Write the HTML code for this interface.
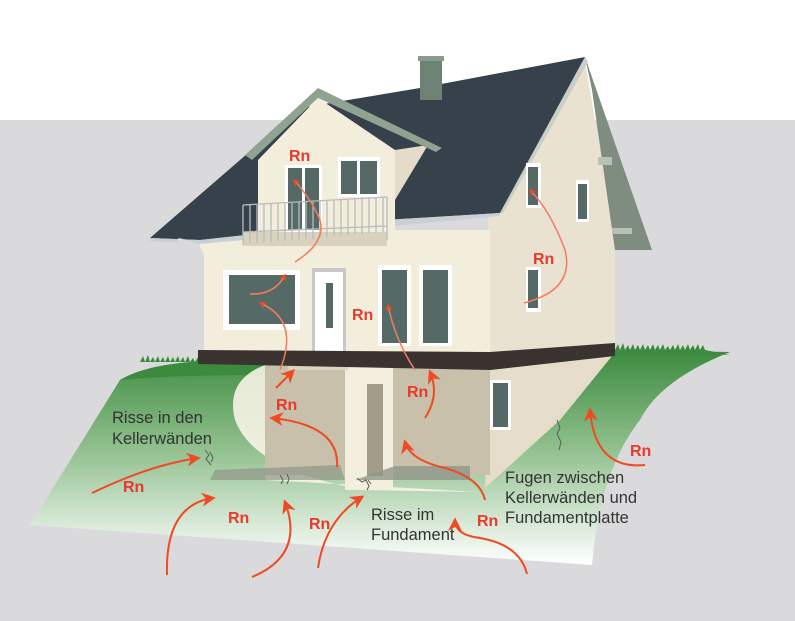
<!DOCTYPE html>
<html><head><meta charset="utf-8"><style>body{margin:0;background:#fff}svg{display:block}</style></head><body>
<svg width="795" height="621" viewBox="0 0 795 621" xmlns="http://www.w3.org/2000/svg" font-family="Liberation Sans, sans-serif">
<defs>
<linearGradient id="g" x1="0" y1="0" x2="0" y2="1"><stop offset="0" stop-color="#3b8a3e"/><stop offset="0.45" stop-color="#8fbf8c"/><stop offset="1" stop-color="#ffffff"/></linearGradient>
<marker id="a" viewBox="0 0 10 10" refX="8" refY="5" markerWidth="5" markerHeight="5" orient="auto"><path d="M0,0L10,5L0,10L3,5z" fill="#f04a23"/></marker>
<marker id="b" viewBox="0 0 10 10" refX="8" refY="5" markerWidth="7" markerHeight="7" orient="auto"><path d="M0,0L10,5L0,10L3,5z" fill="#f04a23"/></marker>
</defs>
<rect x="0" y="120" width="795" height="501" fill="#dadadc"/>
<path d="M30,525 L120,380 Q180,355 265,362 L615,350 L730,352 Q660,380 640,420 Q600,470 592,565 L30,525 Z" fill="url(#g)"/>
<path d="M120,380 Q160,356 265,362 L270,375 Q170,375 120,380Z" fill="#3b8a3e"/>
<path d="M265,365 Q225,380 235,420 Q250,460 320,480 L360,490 L480,492 L265,480Z" fill="#f7f3e6" opacity="0.9"/>
<path d="M490,370 L612,356 L560,420 L485,488 Z" fill="#e5ddc9"/>
<rect x="265" y="365" width="225" height="110" fill="#c8c0aa"/>
<rect x="345" y="365" width="48" height="125" fill="#f3eedd"/>
<rect x="367" y="384" width="16" height="92" fill="#a39c8b"/>
<path d="M215,470 L340,465 L345,480 L210,480Z" fill="#8e9688" opacity="0.7"/>
<path d="M355,480 L395,466 L470,466 L470,480Z" fill="#8e9688" opacity="0.8"/>
<rect x="490" y="380" width="21" height="50" fill="#fff"/><rect x="493" y="383" width="15" height="44" fill="#556a66"/>
<path d="M140,362 l3,-6 l2,6 l3,-7 l2,7 l3,-5 l2,5 l3,-6 l2,6 l3,-5 l2,5 l3,-6 l2,6 l3,-5 l2,5 l3,-6 l2,6 l3,-5 l2,5 l3,-6 l2,6 l3,-4 l2,4 l3,-5 l2,5Z" fill="#3b8a3e"/>
<path d="M615,350 l3,-6 l2,6 l3,-7 l2,7 l3,-5 l2,5 l3,-6 l2,6 l3,-5 l2,5 l3,-6 l2,6 l3,-5 l2,5 l3,-6 l2,6 l3,-5 l2,5 l3,-6 l2,6 l3,-4 l2,4 l3,-5 l2,5 l3,-6 l2,6 l3,-5 l2,5 l3,-6 l2,6 l3,-5 l2,5l3,-6 l2,6 l3,-5 l2,5 L730,355Z" fill="#3b8a3e"/>
<path d="M488,216 L585,62 L615,235 L615,345 L490,352Z" fill="#e9e2d0"/>
<rect x="200" y="230" width="290" height="122" fill="#f3eddc"/>
<path d="M585,57 L652,250 L615,250 L592,90Z" fill="#7e8d80"/>
<path d="M150,238 L300,108 L420,88 L585,57 L500,213 L385,220 L200,240Z" fill="#36414b"/>
<path d="M585,57 L500,213 L503,213 L588,62Z" fill="#c9cfc6"/>
<rect x="420" y="58" width="22" height="42" fill="#6e8274"/><rect x="418" y="56" width="26" height="5" fill="#8a9a8e"/>
<path d="M150,238 L200,240 L385,220 L500,213 L500,216 L200,244 L150,241Z" fill="#c9cfd3"/>
<path d="M258,160 L318,98 L395,150 L395,235 L258,235Z" fill="#f3eddc"/>
<path d="M395,150 L428,145 L395,200Z" fill="#e4dcc8"/>
<path d="M245,155 L318,88 L442,148 L436,152 L318,98 L252,160Z" fill="#8fa390"/>
<rect x="285" y="165" width="37" height="68" fill="#fff"/><rect x="288" y="168" width="14" height="62" fill="#556a66"/><rect x="305" y="168" width="14" height="62" fill="#556a66"/>
<rect x="338" y="157" width="42" height="40" fill="#fff"/><rect x="341" y="161" width="16" height="33" fill="#556a66"/><rect x="360" y="161" width="17" height="33" fill="#556a66"/>
<rect x="243" y="232" width="144" height="14" fill="#d9d2bf"/>
<g stroke="#b9bcbe" stroke-width="1.3" fill="none"><path d="M243,205 L387,197 M243,205 L243,245 M387,197 L387,240 M243,232 L387,226"/>
<path d="M250,205v38M257,205v38M264,204v38M271,204v38M278,203v38M285,203v38M292,203v37M299,202v37M306,202v37M313,202v37M320,201v36M327,201v36M334,200v36M341,200v36M348,199v36M355,199v35M362,199v35M369,198v35M376,198v35M383,197v35"/></g>
<path d="M178,240 Q202,244 202,258 L202,362" stroke="#d8dadb" stroke-width="4" fill="none"/>
<rect x="223" y="270" width="77" height="60" fill="#fff"/><rect x="229" y="275" width="66" height="49" fill="#556a66"/>
<rect x="312" y="268" width="34" height="85" fill="#c8c8c8"/><rect x="315" y="272" width="28" height="81" fill="#fff"/><rect x="326" y="283" width="7" height="45" fill="#556a66"/>
<rect x="378" y="265" width="33" height="81" fill="#fff"/><rect x="382" y="270" width="25" height="73" fill="#556a66"/>
<rect x="419" y="265" width="33" height="81" fill="#fff"/><rect x="423" y="270" width="25" height="73" fill="#556a66"/>
<rect x="526" y="163" width="15" height="45" fill="#fff"/><rect x="528" y="167" width="10" height="38" fill="#556a66"/>
<rect x="576" y="180" width="13" height="42" fill="#fff"/><rect x="578" y="184" width="9" height="35" fill="#556a66"/>
<rect x="526" y="267" width="15" height="45" fill="#fff"/><rect x="528" y="270" width="10" height="38" fill="#556a66"/>
<path d="M598,157 L612,157 L612,165 L598,165Z M612,228 L632,228 L632,234 L612,234Z" fill="#b9c1b4"/>
<rect x="288" y="362" width="60" height="8" fill="#d9d3c1"/><rect x="295" y="355" width="50" height="8" fill="#e4dece"/>
<path d="M198,350 L490,352 L615,343 L615,356 L490,370 L198,364Z" fill="#3a3330"/>
<g stroke="#555e60" stroke-width="1" fill="none"><path d="M205,450 l4,5 l-3,4 l5,6 M210,452 l3,6 l-2,4"/><path d="M280,475 l3,5 l-2,4 M287,474 l2,5 l-2,5"/><path d="M357,478 l5,4 l4,-2 l3,6 l-2,4 M368,480 l3,4"/><path d="M557,420 l3,8 l-3,6 l4,8 l-2,8"/></g>
<g stroke="#f27d5d" stroke-width="1.5" fill="none" marker-end="url(#a)">
<path d="M295,262 Q330,240 318,215 Q308,195 294,180"/>
<path d="M250,294 Q275,295 285,275"/>
<path d="M280,370 Q300,320 260,303"/>
<path d="M415,370 Q395,340 388,305"/>
<path d="M524,303 Q575,290 565,250 Q550,210 530,190"/>
</g>
<g stroke="#f04a23" stroke-width="2" fill="none" marker-end="url(#b)">
<path d="M276,388 L293,371"/>
<path d="M425,418 Q440,395 430,372"/>
<path d="M337,467 Q340,425 272,418"/>
<path d="M92,493 Q150,465 198,458"/>
<path d="M167,575 Q165,505 213,498"/>
<path d="M252,577 Q305,555 285,502"/>
<path d="M318,568 Q325,520 362,497"/>
<path d="M485,500 Q480,478 445,468 Q410,460 405,442"/>
<path d="M645,465 Q595,470 590,410"/>
<path d="M527,574 Q520,545 480,538 Q455,535 455,520"/>
</g>
<g fill="#e8392a" font-weight="bold" font-size="16">
<text x="289" y="161">Rn</text><text x="352" y="320">Rn</text><text x="533" y="264">Rn</text>
<text x="276" y="410">Rn</text><text x="407" y="397">Rn</text>
<text x="123" y="492">Rn</text><text x="228" y="523">Rn</text><text x="309" y="529">Rn</text><text x="477" y="526">Rn</text><text x="630" y="456">Rn</text>
</g>
<g fill="#333" font-size="16.5">
<text x="112" y="423">Risse in den</text><text x="112" y="444">Kellerwänden</text>
<text x="371" y="520">Risse im</text><text x="371" y="540">Fundament</text>
<text x="505" y="483">Fugen zwischen</text><text x="505" y="503">Kellerwänden und</text><text x="505" y="523">Fundamentplatte</text>
</g>
</svg>
</body></html>
